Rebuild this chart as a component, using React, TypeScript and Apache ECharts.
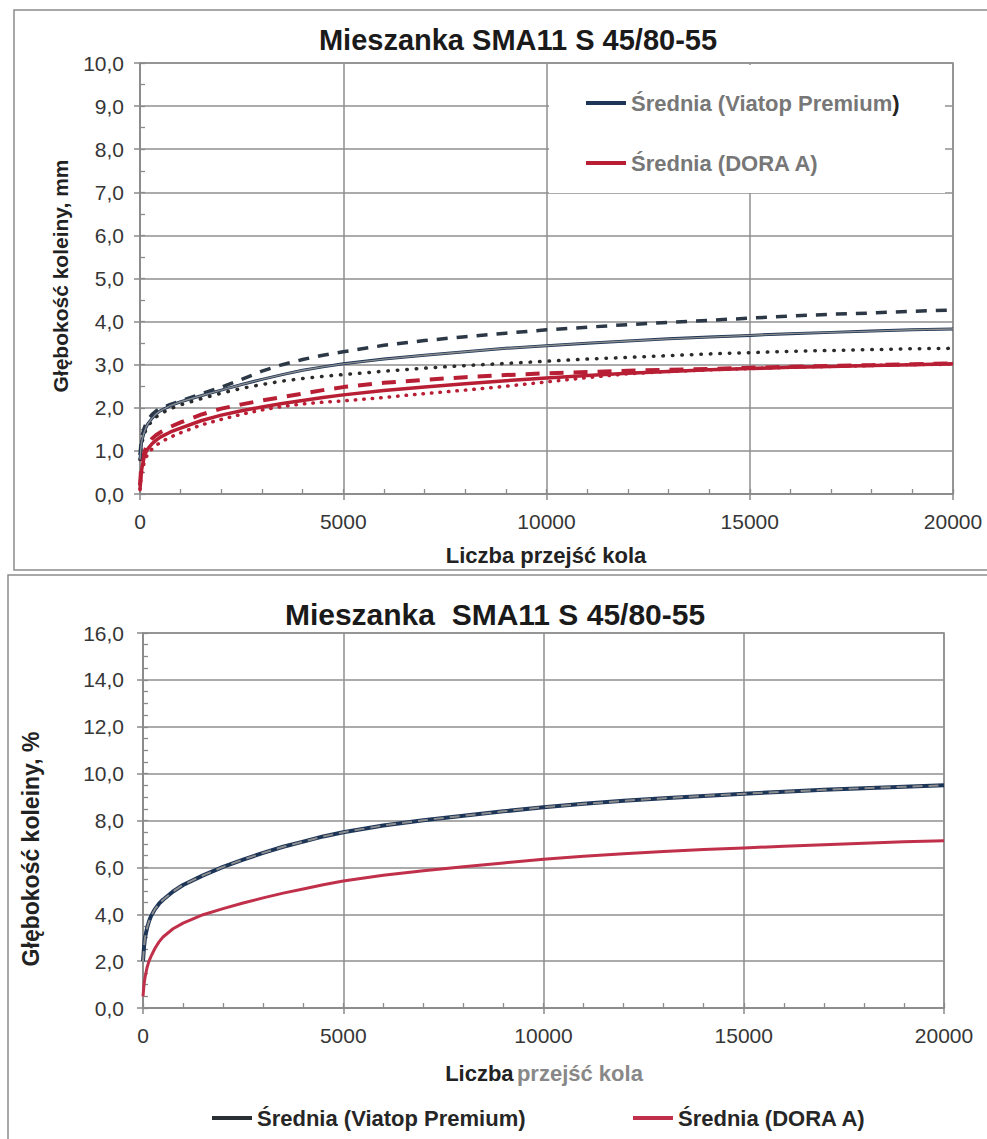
import React, { useEffect, useRef } from "react";
import * as echarts from "echarts";

// Number of wheel passes at which the rut depth was sampled
const PASSES = [0, 25, 50, 100, 150, 200, 300, 400, 500, 750, 1000, 1500, 2000, 2500, 3000, 3500, 4000, 4500, 5000, 6000, 7000, 8000, 9000, 10000, 11000, 12000, 13000, 14000, 15000, 16000, 17000, 18000, 19000, 20000];

// Rut depth in mm: mean and the two bounding curves for each binder
const viatopMeanMm = [0.8, 1.1, 1.25, 1.42, 1.55, 1.64, 1.76, 1.86, 1.93, 2.05, 2.14, 2.28, 2.41, 2.54, 2.66, 2.77, 2.87, 2.95, 3.02, 3.13, 3.22, 3.3, 3.38, 3.44, 3.5, 3.55, 3.6, 3.64, 3.68, 3.72, 3.75, 3.78, 3.81, 3.83];
const viatopUpperMm = [0.9, 1.2, 1.35, 1.52, 1.64, 1.73, 1.85, 1.93, 1.99, 2.08, 2.16, 2.32, 2.48, 2.66, 2.85, 3.0, 3.12, 3.22, 3.3, 3.45, 3.56, 3.65, 3.73, 3.81, 3.87, 3.93, 3.98, 4.03, 4.08, 4.13, 4.17, 4.2, 4.24, 4.27];
const viatopLowerMm = [0.8, 1.05, 1.2, 1.38, 1.5, 1.58, 1.7, 1.79, 1.86, 1.98, 2.07, 2.21, 2.34, 2.45, 2.54, 2.62, 2.68, 2.73, 2.77, 2.85, 2.92, 2.98, 3.03, 3.08, 3.13, 3.17, 3.21, 3.25, 3.28, 3.31, 3.33, 3.35, 3.37, 3.38];
const doraMeanMm = [0.1, 0.45, 0.62, 0.85, 0.98, 1.06, 1.17, 1.25, 1.32, 1.44, 1.53, 1.7, 1.83, 1.93, 2.02, 2.1, 2.17, 2.24, 2.3, 2.4, 2.48, 2.56, 2.63, 2.69, 2.75, 2.8, 2.84, 2.88, 2.91, 2.94, 2.96, 2.98, 3.0, 3.02];
const doraUpperMm = [0.2, 0.55, 0.72, 0.95, 1.08, 1.17, 1.29, 1.37, 1.43, 1.56, 1.66, 1.84, 1.98, 2.08, 2.17, 2.25, 2.33, 2.41, 2.48, 2.58, 2.65, 2.71, 2.76, 2.8, 2.83, 2.86, 2.88, 2.9, 2.93, 2.95, 2.97, 2.99, 3.01, 3.03];
const doraLowerMm = [0.1, 0.38, 0.52, 0.72, 0.85, 0.94, 1.05, 1.13, 1.2, 1.32, 1.42, 1.6, 1.73, 1.85, 1.95, 2.03, 2.09, 2.13, 2.16, 2.24, 2.33, 2.41, 2.5, 2.6, 2.7, 2.79, 2.84, 2.88, 2.91, 2.94, 2.96, 2.98, 3.0, 3.01];

// Rut depth as a percentage of slab thickness
const viatopMeanPct = [2.0, 2.6, 3.0, 3.4, 3.7, 3.92, 4.22, 4.45, 4.62, 4.97, 5.25, 5.66, 6.02, 6.33, 6.62, 6.88, 7.1, 7.32, 7.5, 7.79, 8.01, 8.2, 8.39, 8.57, 8.71, 8.84, 8.95, 9.05, 9.14, 9.23, 9.31, 9.38, 9.44, 9.5];
const doraMeanPct = [0.5, 1.0, 1.3, 1.72, 2.0, 2.2, 2.55, 2.82, 3.03, 3.38, 3.62, 3.98, 4.24, 4.48, 4.7, 4.9, 5.08, 5.26, 5.42, 5.66, 5.86, 6.03, 6.19, 6.35, 6.47, 6.58, 6.68, 6.76, 6.83, 6.9, 6.97, 7.03, 7.09, 7.14];

const VIATOP = "Średnia (Viatop Premium)";
const DORA = "Średnia (DORA A)";
const TITLE_MM = "Mieszanka SMA11 S 45/80-55";
const TITLE_PCT = "Mieszanka  SMA11 S 45/80-55";
const X_NAME = "Liczba przejść kola";
const Y_NAME_MM = "Głębokość koleiny, mm";
const Y_NAME_PCT = "Głębokość koleiny, %";

const FONT = "'Liberation Sans', Arial, sans-serif";
const AXIS_GREY = "#8a8a8a";
const NAVY = "#1d3557";
const RED = "#b81f35";
const RED_LIGHT = "#c0304a";

const pairs = (ys: number[]) => PASSES.map((x, i) => [x, ys[i]]);
const comma = (v: number) => v.toFixed(1).replace(".", ",");

function mainX(grid: number, margin: number) {
  return {
    type: "value",
    gridIndex: grid,
    min: 0,
    max: 20000,
    interval: 5000,
    axisLine: { show: true, onZero: false, lineStyle: { color: AXIS_GREY, width: 1.5 } },
    axisTick: { show: true, length: 6, lineStyle: { color: AXIS_GREY, width: 1.5 } },
    axisLabel: { fontFamily: FONT, fontSize: 21, color: "#363636", margin, formatter: (v: number) => String(v) },
    splitLine: { show: true, lineStyle: { color: "#8f8f8f", width: 1.5 } },
  };
}

function minorX(grid: number) {
  return {
    type: "value",
    gridIndex: grid,
    position: "bottom",
    min: 0,
    max: 20000,
    interval: 1000,
    axisLine: { show: false, onZero: false },
    axisTick: { show: true, inside: true, length: 5, lineStyle: { color: AXIS_GREY, width: 1.3 } },
    axisLabel: { show: false },
    splitLine: { show: false },
  };
}

function mainY(grid: number, max: number, interval: number, margin: number) {
  return {
    type: "value",
    gridIndex: grid,
    position: "left",
    min: 0,
    max,
    interval,
    axisLine: { show: true, onZero: false, lineStyle: { color: AXIS_GREY, width: 1.5 } },
    axisTick: { show: true, length: 6, lineStyle: { color: AXIS_GREY, width: 1.5 } },
    axisLabel: { fontFamily: FONT, fontSize: 21, color: "#363636", margin, formatter: comma },
    splitLine: { show: true, lineStyle: { color: "#8f8f8f", width: 1.5 } },
  };
}

function minorY(grid: number, max: number, interval: number) {
  return {
    type: "value",
    gridIndex: grid,
    position: "left",
    offset: 0,
    min: 0,
    max,
    interval,
    axisLine: { show: false, onZero: false },
    axisTick: { show: true, inside: true, length: 5, lineStyle: { color: AXIS_GREY, width: 1.3 } },
    axisLabel: { show: false },
    splitLine: { show: false },
  };
}

function line(name: string, data: number[], xi: number, yi: number, style: any, z = 2) {
  return {
    type: "line",
    name,
    xAxisIndex: xi,
    yAxisIndex: yi,
    data: pairs(data),
    smooth: false,
    showSymbol: false,
    symbol: "none",
    z,
    lineStyle: { join: "round", ...style },
    itemStyle: { color: style.color },
  };
}

export default function App() {
  const ref = useRef<HTMLDivElement>(null);

  useEffect(() => {
    if (!ref.current) return;
    const chart = echarts.init(ref.current, null, { renderer: "svg" });

    const option: any = {
      animation: false,
      backgroundColor: "#ffffff",
      grid: [
        { left: 140, top: 63, width: 813, height: 431, show: true, borderColor: AXIS_GREY, borderWidth: 1.5, backgroundColor: "transparent" },
        { left: 143, top: 633, width: 801, height: 375, show: true, borderColor: AXIS_GREY, borderWidth: 1.5, backgroundColor: "transparent" },
      ],
      xAxis: [mainX(0, 17), minorX(0), mainX(1, 17), minorX(1)],
      yAxis: [mainY(0, 10, 1, 16), minorY(0, 10, 0.5), mainY(1, 16, 2, 19), minorY(1, 16, 0.5)],
      legend: [
        {
          data: [VIATOP],
          left: 586,
          top: 92,
          icon: "rect",
          itemWidth: 40,
          itemHeight: 4,
          padding: 0,
          formatter: () => "{g|Średnia (Viatop Premium}{k|)}",
          textStyle: {
            rich: {
              g: { fontFamily: FONT, fontSize: 22, fontWeight: "bold", color: "#777777" },
              k: { fontFamily: FONT, fontSize: 22, fontWeight: "bold", color: "#222222" },
            },
          },
        },
        {
          data: [DORA],
          left: 586,
          top: 152,
          icon: "rect",
          itemWidth: 40,
          itemHeight: 4,
          padding: 0,
          textStyle: { fontFamily: FONT, fontSize: 22, fontWeight: "bold", color: "#777777" },
        },
        {
          data: [VIATOP],
          left: 212,
          top: 1107,
          icon: "rect",
          itemWidth: 40,
          itemHeight: 4,
          padding: 0,
          itemStyle: { color: "#2a2f36" },
          textStyle: { fontFamily: FONT, fontSize: 22, fontWeight: "bold", color: "#262626" },
        },
        {
          data: [DORA],
          left: 633,
          top: 1107,
          icon: "rect",
          itemWidth: 40,
          itemHeight: 4,
          padding: 0,
          itemStyle: { color: RED_LIGHT },
          textStyle: { fontFamily: FONT, fontSize: 22, fontWeight: "bold", color: "#262626" },
        },
      ],
      graphic: [
        // chart frames
        { type: "rect", shape: { x: 14, y: 10, width: 990, height: 560 }, style: { fill: "none", stroke: "#8c8c8c", lineWidth: 1.5 }, z: 1 },
        { type: "rect", shape: { x: 8, y: 575, width: 1000, height: 600 }, style: { fill: "none", stroke: "#8c8c8c", lineWidth: 1.5 }, z: 1 },
        // legend backing in the upper panel
        { type: "rect", shape: { x: 549, y: 65, width: 396, height: 128 }, style: { fill: "#ffffff" }, z: 3 },
        // titles
        { type: "text", x: 518, y: 40, style: { text: TITLE_MM, font: `bold 29px ${FONT}`, fill: "#1a1a1a", align: "center", verticalAlign: "middle" } },
        { type: "text", x: 495, y: 614, style: { text: TITLE_PCT, font: `bold 30px ${FONT}`, fill: "#1a1a1a", align: "center", verticalAlign: "middle" } },
        // axis names
        { type: "text", x: 546, y: 555, style: { text: X_NAME, font: `bold 22px ${FONT}`, fill: "#222222", align: "center", verticalAlign: "middle" } },
        {
          type: "text",
          x: 544,
          y: 1073,
          style: {
            text: "{k|Liczba} {g|przejść kola}",
            align: "center",
            verticalAlign: "middle",
            rich: {
              k: { font: `bold 22px ${FONT}`, fill: "#222222" },
              g: { font: `bold 22px ${FONT}`, fill: "#888888" },
            },
          },
        },
        { type: "text", x: 60, y: 276, rotation: Math.PI / 2, style: { text: Y_NAME_MM, font: `bold 21px ${FONT}`, fill: "#222222", align: "center", verticalAlign: "middle" } },
        { type: "text", x: 31, y: 849, rotation: Math.PI / 2, style: { text: Y_NAME_PCT, font: `bold 23px ${FONT}`, fill: "#222222", align: "center", verticalAlign: "middle" } },
      ],
      series: [
        // upper panel: rut depth in mm
        line("Viatop – krzywa górna", viatopUpperMm, 0, 0, { color: "#2c3846", width: 3.5, type: [11, 9] }),
        line("Viatop – krzywa dolna", viatopLowerMm, 0, 0, { color: "#2a2a2a", width: 3.5, type: [0.5, 9], cap: "round" }),
        line("DORA – krzywa górna", doraUpperMm, 0, 0, { color: RED, width: 4, type: [14, 10] }),
        line("DORA – krzywa dolna", doraLowerMm, 0, 0, { color: RED, width: 3.5, type: [0.5, 8], cap: "round" }),
        line(DORA, doraMeanMm, 0, 0, { color: RED, width: 3.5 }, 3),
        line(VIATOP, viatopMeanMm, 0, 0, { color: NAVY, width: 3 }, 3),
        line("Viatop – średnia (jasna)", viatopMeanMm, 0, 0, { color: "#8d8d8d", width: 1.4 }, 4),
        // lower panel: rut depth in %
        line(VIATOP, viatopMeanPct, 2, 2, { color: NAVY, width: 4 }, 3),
        line("Viatop % (jasna)", viatopMeanPct, 2, 2, { color: "#8d8d8d", width: 2, type: [10, 6] }, 4),
        line(DORA, doraMeanPct, 2, 2, { color: RED_LIGHT, width: 3 }, 3),
      ],
    };

    chart.setOption(option);
    return () => chart.dispose();
  }, []);

  return (
    <div
      ref={ref}
      style={{ position: "absolute", left: 0, top: 0, width: 987, height: 1139, background: "#fff" }}
    />
  );
}
